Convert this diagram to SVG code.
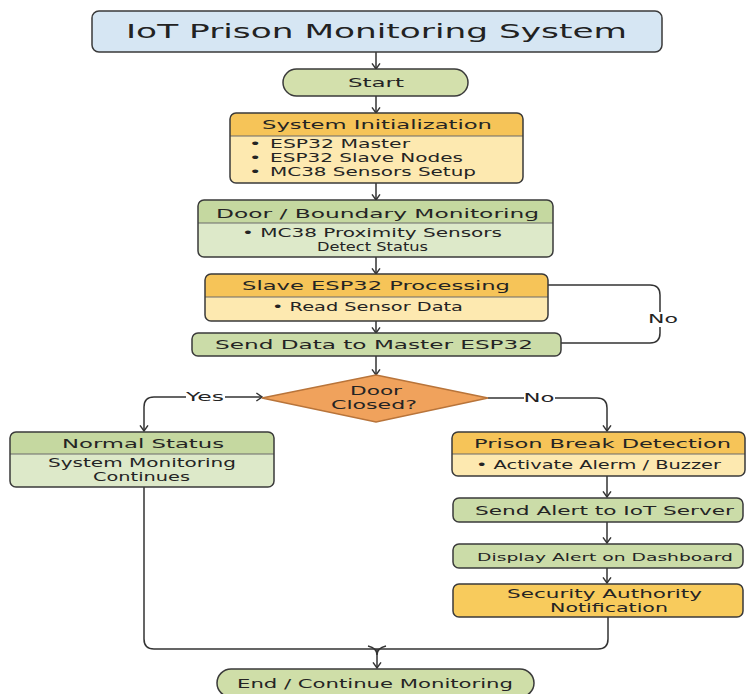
<svg xmlns="http://www.w3.org/2000/svg" width="747" height="694" viewBox="0 0 747 694">
<style>
.t{font-family:"DejaVu Sans","Verdana",sans-serif;font-size:12.5px;fill:#242424;text-anchor:middle}
.m{font-family:"DejaVu Sans","Verdana",sans-serif;font-size:12px;fill:#242424;text-anchor:middle}
.s{font-family:"DejaVu Sans","Verdana",sans-serif;font-size:12px;fill:#242424}
.ttl{font-family:"DejaVu Sans","Verdana",sans-serif;font-size:19px;fill:#222;text-anchor:middle}
.box{stroke:#3a3a3a;stroke-width:1.5}
.out{fill:none;stroke:#3a3a3a;stroke-width:1.5}
.div{stroke:#6a6a6a;stroke-width:1}
.gH{fill:#c5d8a0}.gB{fill:#dde9c9}.gS{fill:#cbdca8}
.oH{fill:#f6c458}.oB{fill:#fde9b0}
.c{fill:none;stroke:#333;stroke-width:1.5}
.ca{fill:none;stroke:#333;stroke-width:1.5;marker-end:url(#arr)}
</style>
<defs>
<marker id="arr" viewBox="0 0 10 12" refX="9" refY="6" markerWidth="8" markerHeight="11" markerUnits="userSpaceOnUse" orient="auto">
<path d="M2,1 L9,6 L2,11" fill="none" stroke="#333" stroke-width="1.8"/>
</marker>
</defs>

<g id="connectors">
<path class="ca" d="M376,52 V69"/>
<path class="ca" d="M376,96 V113"/>
<path class="ca" d="M376,183 V200"/>
<path class="ca" d="M376,257 V274"/>
<path class="ca" d="M376,321 V333"/>
<path class="ca" d="M376,356 V375"/>
<path class="c" d="M548,285 H650 Q660,285 660,295 V312"/>
<path class="c" d="M660,327 V333 Q660,343 650,343 H561"/>
<path class="ca" d="M186,397 H154 Q144,397 144,407 V431"/>
<path class="ca" d="M225,397 H262"/>
<path class="c" d="M488,398 H524"/>
<path class="ca" d="M555,398 H597 Q607,398 607,408 V431"/>
<path class="ca" d="M607,476 V497"/>
<path class="ca" d="M607,522 V543"/>
<path class="ca" d="M607,568 V583"/>
<path class="c" d="M144,487 V639 Q144,649 154,649 H598 Q608,649 608,639 V617"/>
<path class="c" d="M368,646 Q377,648 377,655 Q377,648 386,646"/>
<path class="ca" d="M377,649 V668"/>
<text class="m" transform="translate(663,323) scale(1.75,1)" textLength="17.1" lengthAdjust="spacingAndGlyphs">No</text>
<text class="m" transform="translate(205,401) scale(1.75,1)" textLength="21.7" lengthAdjust="spacingAndGlyphs">Yes</text>
<text class="m" transform="translate(539,402) scale(1.75,1)" textLength="17.7" lengthAdjust="spacingAndGlyphs">No</text>
</g>

<g id="title">
<rect class="box" x="92" y="11" width="570" height="41" rx="7" fill="#d6e6f3"/>
<text class="ttl" transform="translate(376.5,38) scale(1.75,1)" textLength="286.3" lengthAdjust="spacingAndGlyphs">IoT Prison Monitoring System</text>
</g>

<g id="start">
<rect class="box" x="283" y="69" width="185" height="27" rx="13.5" fill="#d3e0ac"/>
<text class="t" transform="translate(376,87) scale(1.75,1)" textLength="32" lengthAdjust="spacingAndGlyphs">Start</text>
</g>

<g id="init">
<rect class="oB" x="230" y="113" width="293" height="70" rx="6"/>
<path class="oH" d="M236,113 H517 Q523,113 523,119 V136 H230 V119 Q230,113 236,113 Z"/>
<line class="div" x1="230" y1="136" x2="523" y2="136"/>
<rect class="out" x="230" y="113" width="293" height="70" rx="6"/>
<text class="t" transform="translate(377,129) scale(1.75,1)" textLength="131.4" lengthAdjust="spacingAndGlyphs">System Initialization</text>
<text class="s" transform="translate(0,148) scale(1.75,1)"><tspan x="142.3">•</tspan><tspan x="154.3" textLength="80" lengthAdjust="spacingAndGlyphs">ESP32 Master</tspan></text>
<text class="s" transform="translate(0,162) scale(1.75,1)"><tspan x="142.3">•</tspan><tspan x="154.3" textLength="110.3" lengthAdjust="spacingAndGlyphs">ESP32 Slave Nodes</tspan></text>
<text class="s" transform="translate(0,176) scale(1.75,1)"><tspan x="142.3">•</tspan><tspan x="154.3" textLength="117.7" lengthAdjust="spacingAndGlyphs">MC38 Sensors Setup</tspan></text>
</g>

<g id="door">
<rect class="gB" x="198" y="200" width="355" height="57" rx="6"/>
<path class="gH" d="M204,200 H547 Q553,200 553,206 V223 H198 V206 Q198,200 204,200 Z"/>
<line class="div" x1="198" y1="223" x2="553" y2="223"/>
<rect class="out" x="198" y="200" width="355" height="57" rx="6"/>
<text class="t" transform="translate(377.5,218) scale(1.75,1)" textLength="184.6" lengthAdjust="spacingAndGlyphs">Door / Boundary Monitoring</text>
<text class="m" transform="translate(372,237) scale(1.75,1)" textLength="148.6" lengthAdjust="spacingAndGlyphs">• MC38 Proximity Sensors</text>
<text class="m" transform="translate(372.5,251) scale(1.75,1)" textLength="63.4" lengthAdjust="spacingAndGlyphs">Detect Status</text>
</g>

<g id="slave">
<rect class="oB" x="205" y="274" width="343" height="47" rx="6"/>
<path class="oH" d="M211,274 H542 Q548,274 548,280 V297 H205 V280 Q205,274 211,274 Z"/>
<line class="div" x1="205" y1="297" x2="548" y2="297"/>
<rect class="out" x="205" y="274" width="343" height="47" rx="6"/>
<text class="t" transform="translate(376,290) scale(1.75,1)" textLength="153.1" lengthAdjust="spacingAndGlyphs">Slave ESP32 Processing</text>
<text class="m" transform="translate(367.5,311) scale(1.75,1)" textLength="109.1" lengthAdjust="spacingAndGlyphs">• Read Sensor Data</text>
</g>

<g id="send">
<rect class="box gS" x="192" y="333" width="369" height="23" rx="6"/>
<text class="t" transform="translate(374,349) scale(1.75,1)" textLength="181.7" lengthAdjust="spacingAndGlyphs">Send Data to Master ESP32</text>
</g>

<g id="decision">
<polygon points="376,375 488,398 376,422 262,398" fill="#f0a25c" stroke="#b8743a" stroke-width="1.5"/>
<text class="m" transform="translate(376,395) scale(1.75,1)" textLength="29.7" lengthAdjust="spacingAndGlyphs">Door</text>
<text class="m" transform="translate(374,409) scale(1.75,1)" textLength="49.1" lengthAdjust="spacingAndGlyphs">Closed?</text>
</g>

<g id="normal">
<rect class="gB" x="10" y="432" width="264" height="55" rx="6"/>
<path class="gH" d="M16,432 H268 Q274,432 274,438 V454 H10 V438 Q10,432 16,432 Z"/>
<line class="div" x1="10" y1="454" x2="274" y2="454"/>
<rect class="out" x="10" y="432" width="264" height="55" rx="6"/>
<text class="t" transform="translate(143,448) scale(1.75,1)" textLength="92.6" lengthAdjust="spacingAndGlyphs">Normal Status</text>
<text class="m" transform="translate(142,467) scale(1.75,1)" textLength="107.4" lengthAdjust="spacingAndGlyphs">System Monitoring</text>
<text class="m" transform="translate(141.5,481) scale(1.75,1)" textLength="55.4" lengthAdjust="spacingAndGlyphs">Continues</text>
</g>

<g id="break">
<rect class="oB" x="452" y="432" width="293" height="44" rx="6"/>
<path class="oH" d="M458,432 H739 Q745,432 745,438 V454 H452 V438 Q452,432 458,432 Z"/>
<line class="div" x1="452" y1="454" x2="745" y2="454"/>
<rect class="out" x="452" y="432" width="293" height="44" rx="6"/>
<text class="t" transform="translate(602.5,448) scale(1.75,1)" textLength="146.9" lengthAdjust="spacingAndGlyphs">Prison Break Detection</text>
<text class="m" transform="translate(598.5,469) scale(1.75,1)" textLength="140" lengthAdjust="spacingAndGlyphs">• Activate Alerm / Buzzer</text>
</g>

<g id="alert">
<rect class="box gS" x="453" y="498" width="290" height="24" rx="6"/>
<text class="t" transform="translate(604.5,515) scale(1.75,1)" textLength="148" lengthAdjust="spacingAndGlyphs">Send Alert to IoT Server</text>
</g>

<g id="dashboard">
<rect class="box gS" x="453" y="544" width="290" height="24" rx="6"/>
<text class="t" style="font-size:11px" transform="translate(605,560.5) scale(1.7,1)">Display Alert on Dashboard</text>
</g>

<g id="security">
<rect class="box" x="453" y="584" width="290" height="33" rx="6" fill="#f8cb5c"/>
<text class="m" transform="translate(604.5,598) scale(1.75,1)" textLength="111.4" lengthAdjust="spacingAndGlyphs">Security Authority</text>
<text class="m" transform="translate(609,612) scale(1.75,1)" textLength="67.4" lengthAdjust="spacingAndGlyphs">Notification</text>
</g>

<g id="end">
<rect class="box" x="217" y="669" width="317" height="28" rx="14" fill="#cfdea8"/>
<text class="t" transform="translate(375,688) scale(1.75,1)" textLength="157.7" lengthAdjust="spacingAndGlyphs">End / Continue Monitoring</text>
</g>
</svg>
